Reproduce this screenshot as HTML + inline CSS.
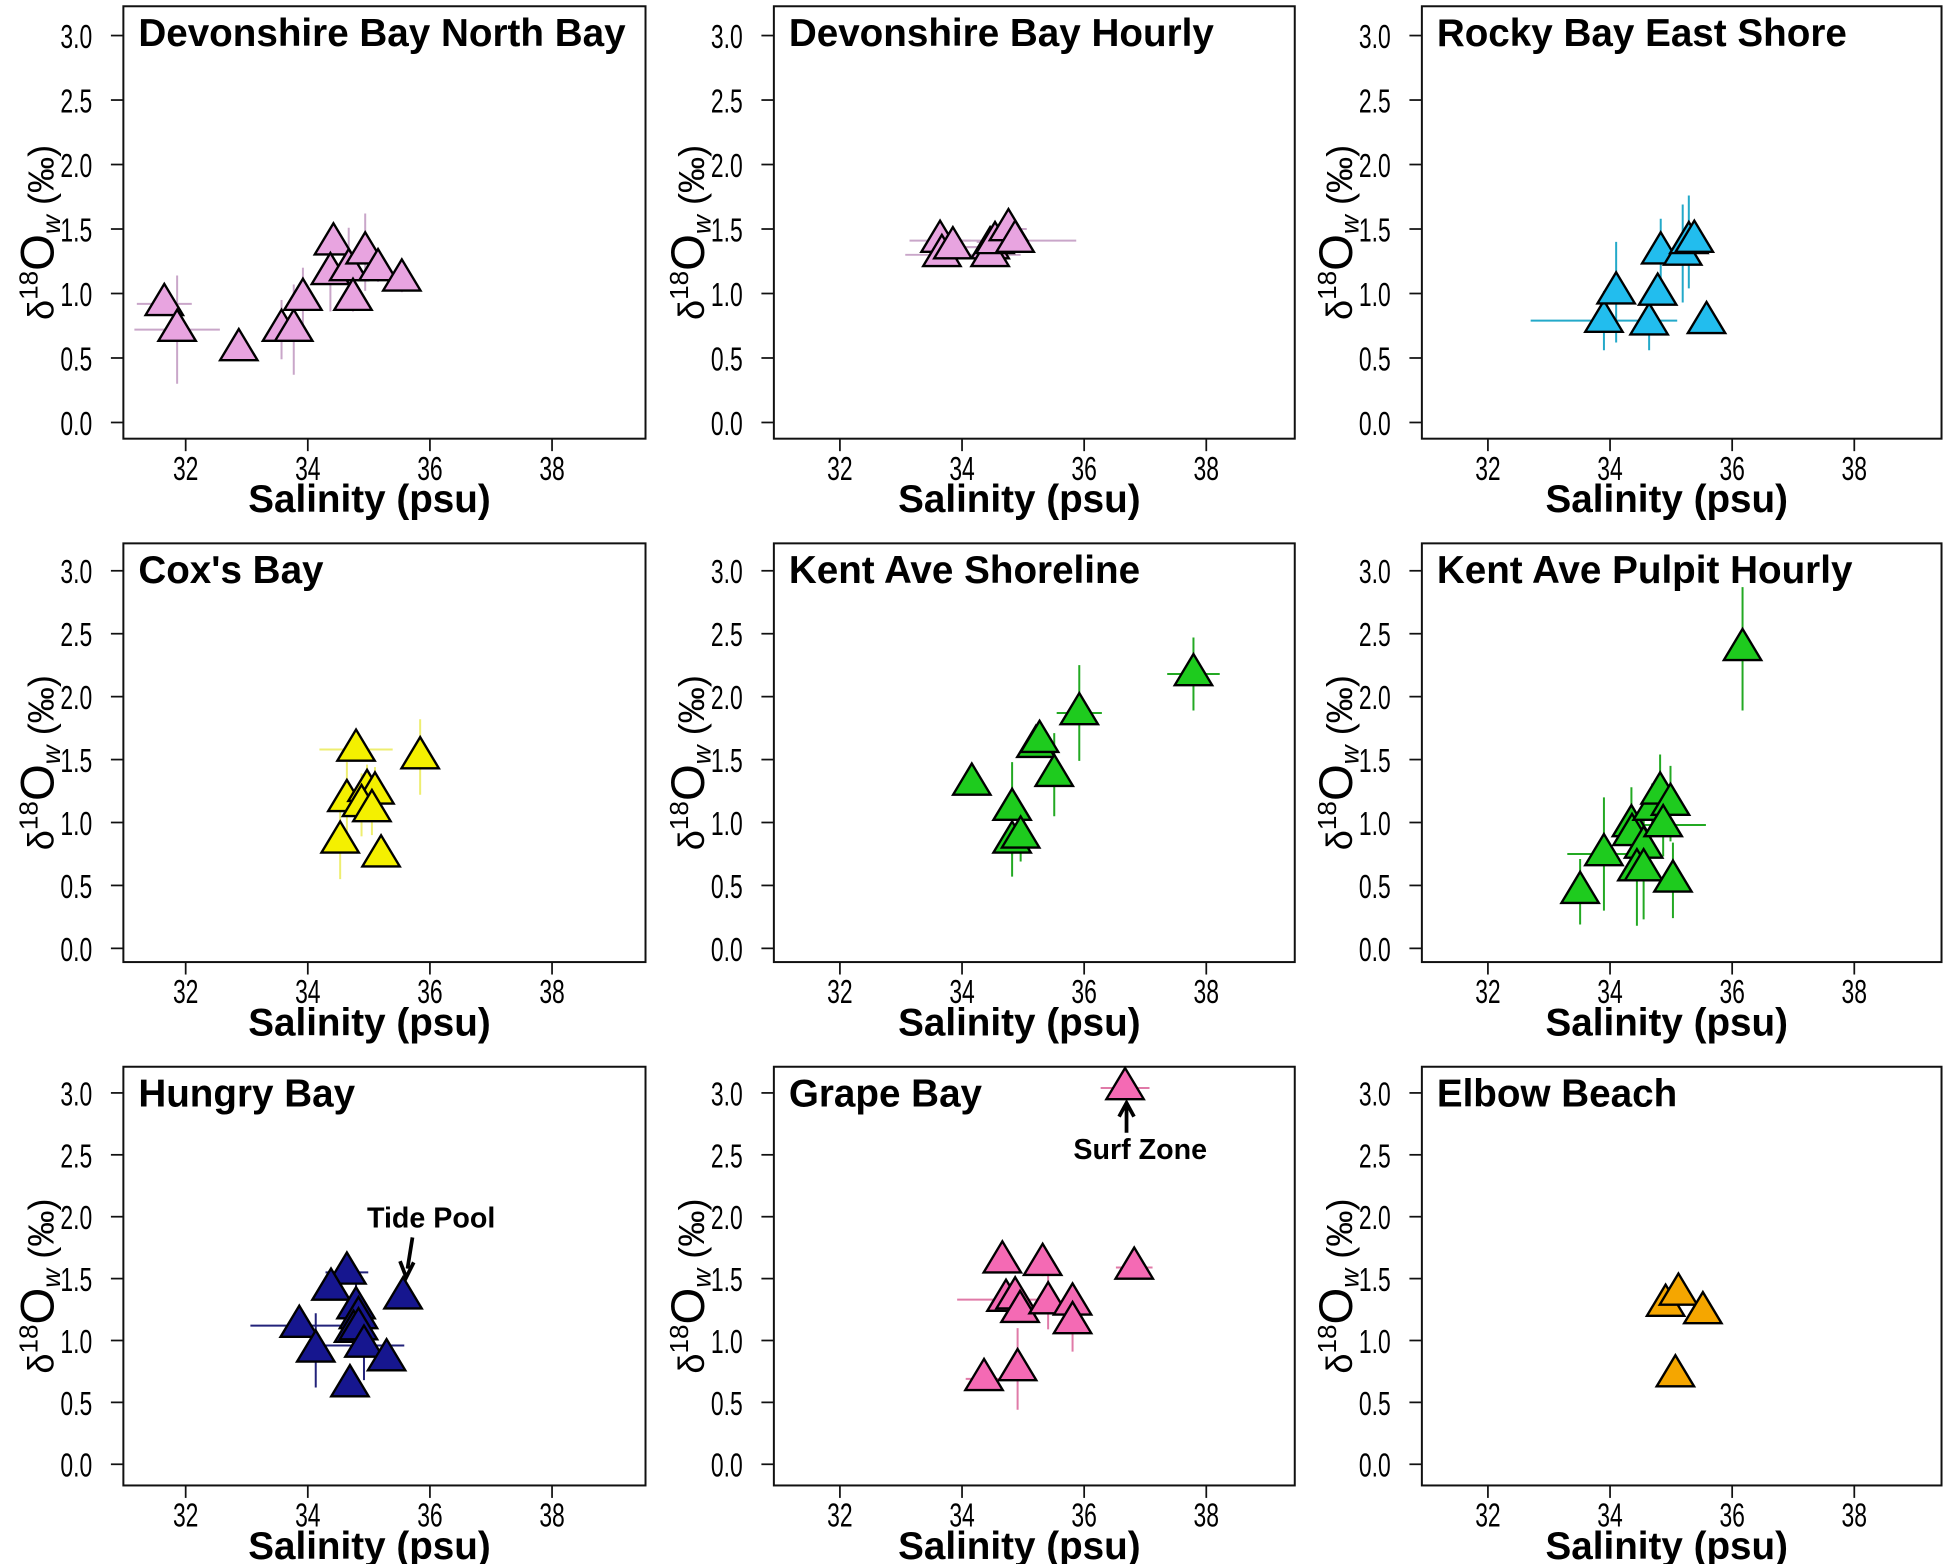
<!DOCTYPE html>
<html><head><meta charset="utf-8"><style>
html,body{margin:0;padding:0;background:#fff}
svg{display:block}
text{font-family:"Liberation Sans",sans-serif}
.tick{font-size:27px}
.ttl{font-weight:bold;font-size:31px}
.xt{font-weight:bold;font-size:31px}
</style></head><body>
<svg id="fig" xmlns="http://www.w3.org/2000/svg" width="1949" height="1564" viewBox="0 0 1564 1255"></svg>
<script>
const xTicks=[32,34,36,38];
const yTicks=[0.0,0.5,1.0,1.5,2.0,2.5,3.0];
const titles=["Devonshire Bay North Bay","Devonshire Bay Hourly","Rocky Bay East Shore","Cox's Bay","Kent Ave Shoreline","Kent Ave Pulpit Hourly","Hungry Bay","Grape Bay","Elbow Beach"];
const p1Sal=[31.65,31.86,32.87,33.57,33.77,33.92,34.42,34.37,34.67,34.74,34.94,35.15,35.54];
const p1D18O=[0.92,0.72,0.57,0.72,0.72,0.96,1.39,1.16,1.19,0.96,1.32,1.19,1.11];
const p1SalErr=[0.45,0.7,0,0,0,0,0,0,0,0,0,0,0];
const p1D18OErr=[0,0.42,0,0.23,0.35,0.24,0,0.3,0.32,0.1,0.3,0.1,0.1];
const p2Sal=[33.64,33.67,33.85,34.46,34.46,34.54,34.76,34.87];
const p2D18O=[1.41,1.30,1.36,1.36,1.30,1.40,1.50,1.41];
const p2SalErr=[0.5,0.6,0.4,0.4,0.5,0.3,0.3,1.0];
const p2D18OErr=[0,0,0,0,0,0,0.08,0.05];
const p3Sal=[33.9,34.1,34.64,34.78,34.83,35.19,35.29,35.38,35.58];
const p3D18O=[0.79,1.01,0.77,1.0,1.32,1.31,1.40,1.41,0.78];
const p3SalErr=[1.2,0,0,0,0,0,0,0,0];
const p3D18OErr=[0.23,0.39,0.21,0.06,0.26,0.38,0.36,0,0];
const p4Sal=[34.79,35.84,34.64,34.97,35.1,34.88,35.05,34.53,35.2];
const p4D18O=[1.58,1.52,1.18,1.26,1.24,1.14,1.10,0.85,0.74];
const p4SalErr=[0.6,0,0,0,0,0,0,0,0];
const p4D18OErr=[0.05,0.3,0.3,0.2,0.2,0.25,0.2,0.3,0];
const p5Sal=[34.16,34.82,34.82,34.96,35.21,35.27,35.51,35.92,37.79];
const p5D18O=[1.31,1.11,0.85,0.89,1.61,1.65,1.38,1.87,2.18];
const p5SalErr=[0.2,0,0,0,0,0,0,0.37,0.43];
const p5D18OErr=[0.05,0.37,0.28,0.2,0,0,0.33,0.38,0.29];
const p6Sal=[36.17,33.51,33.9,34.35,34.36,34.55,34.44,34.55,34.69,34.82,34.99,34.87,35.03];
const p6D18O=[2.38,0.45,0.75,0.98,0.91,0.81,0.63,0.63,1.11,1.24,1.15,0.98,0.54];
const p6SalErr=[0,0.2,0.6,0,0,0,0,0,0,0,0,0.7,0.2];
const p6D18OErr=[0.49,0.26,0.45,0.3,0,0.2,0.45,0.4,0.2,0.3,0.3,0.25,0.3];
const p7Sal=[34.64,34.38,34.79,34.83,33.86,34.75,34.83,34.13,34.92,35.29,34.69,35.56];
const p7D18O=[1.55,1.42,1.27,1.19,1.12,1.08,1.1,0.92,0.96,0.85,0.64,1.35];
const p7SalErr=[0.35,0,0,0,0.8,0,0,0,0.66,0,0,0];
const p7D18OErr=[0,0,0.2,0.2,0,0,0,0.3,0.28,0,0,0];
const p8Sal=[34.66,35.32,36.82,34.72,34.87,34.95,35.41,35.81,35.81,34.36,34.91,36.67];
const p8D18O=[1.64,1.62,1.59,1.33,1.35,1.24,1.31,1.30,1.15,0.69,0.77,3.04];
const p8SalErr=[0.2,0,0.3,0.8,0,0,0,0,0,0.3,0,0.4];
const p8D18OErr=[0,0.1,0.05,0,0,0,0.22,0,0.24,0,0.33,0];
const p9Sal=[34.91,35.12,35.52,35.07];
const p9D18O=[1.29,1.38,1.23,0.72];
const p9SalErr=[0,0,0,0];
const p9D18OErr=[0,0,0,0];

const panels=[
 [p1Sal,p1D18O,p1SalErr,p1D18OErr,"#e8a4e0","#c9a6c9"],
 [p2Sal,p2D18O,p2SalErr,p2D18OErr,"#e8a4e0","#c9a6c9"],
 [p3Sal,p3D18O,p3SalErr,p3D18OErr,"#22bdee","#23a9c9"],
 [p4Sal,p4D18O,p4SalErr,p4D18OErr,"#f4f000","#eeee70"],
 [p5Sal,p5D18O,p5SalErr,p5D18OErr,"#1ecb1e","#23a923"],
 [p6Sal,p6D18O,p6SalErr,p6D18OErr,"#1ecb1e","#23a923"],
 [p7Sal,p7D18O,p7SalErr,p7D18OErr,"#16168f","#22227a"],
 [p8Sal,p8D18O,p8SalErr,p8D18OErr,"#f46ab4","#e07aa8"],
 [p9Sal,p9D18O,p9SalErr,p9D18OErr,"#f5a600","#f0c050"]
];
const colL=[99,621,1141], colR=[518,1039,1558], colX32=[149,674,1194];
const rowT=[5,436,856], rowB=[352,772,1192], rowY0=[339,761,1175], rowY3=[28.5,458,877];
const NS="http://www.w3.org/2000/svg";
const svg=document.getElementById('fig');
function mk(tag,attrs,parent){const e=document.createElementNS(NS,tag);for(const k in attrs)e.setAttribute(k,attrs[k]);(parent||svg).appendChild(e);return e;}
const SX=0.68;

panels.forEach((p,i)=>{
 const c=i%3, r=Math.floor(i/3);
 const xs=s=>colX32[c]+(s-32)*49;
 const ys=v=>rowY0[r]-(rowY0[r]-rowY3[r])*v/3;
 const g=mk('g',{});
 
 
 const box=mk('rect',{x:colL[c],y:rowT[r],width:colR[c]-colL[c],height:rowB[r]-rowT[r],fill:'none',stroke:'#111','stroke-width':1.6},g);
 
 
 const t=mk('text',{x:colL[c]+12,y:rowT[r]+32,class:'ttl'},g);t.textContent=titles[i];
 
 
 yTicks.forEach(v=>{
  const y=ys(v);
  mk('line',{x1:colL[c]-10,x2:colL[c],y1:y,y2:y,stroke:'#111','stroke-width':1.4},g);
  const tl=mk('text',{x:(colL[c]-25)/SX,y:y+10,class:'tick','text-anchor':'end',transform:`scale(${SX},1)`},g);tl.textContent=v.toFixed(1);
  
  
 });
 xTicks.forEach(s=>{
  const x=xs(s);
  mk('line',{x1:x,x2:x,y1:rowB[r],y2:rowB[r]+10,stroke:'#111','stroke-width':1.4},g);
  const tl=mk('text',{x:x/SX,y:rowB[r]+33,class:'tick','text-anchor':'middle',transform:`scale(${SX},1)`},g);tl.textContent=s;
  
  
 });
 const xt=mk('text',{x:(colL[c]+colR[c])/2-12,y:rowB[r]+59,class:'xt','text-anchor':'middle'},g);xt.textContent='Salinity (psu)';
 
 
 const cy=(rowT[r]+rowB[r])/2+8, cx=colL[c]-56;
 const yt=mk('text',{x:0,y:0,transform:`translate(${cx},${cy}) rotate(-90)`,'text-anchor':'middle','font-size':29},g);
 
 
 yt.innerHTML='δ<tspan dy="-13" font-size="21">18</tspan><tspan dy="13" font-size="38">O</tspan><tspan dy="5" font-size="21" font-style="italic">w</tspan><tspan dy="-5"> (‰)</tspan>';
 const [sal,d,se,de,fill,ec]=p;
 sal.forEach((s,k)=>{
  const x=xs(s), y=ys(d[k]);
  if(se[k]>0){const l=mk('line',{x1:xs(s-se[k]),x2:xs(s+se[k]),y1:y,y2:y,stroke:ec,'stroke-width':1.6},g);
   
   }
  if(de[k]>0){const l=mk('line',{x1:x,x2:x,y1:ys(d[k]-de[k]),y2:ys(d[k]+de[k]),stroke:ec,'stroke-width':1.6},g);
   
   }
 });
 sal.forEach((s,k)=>{
  const x=xs(s), y=ys(d[k]);
  const tri=mk('polygon',{points:`${x},${y-16} ${x-15},${y+9} ${x+15},${y+9}`,fill:fill,stroke:'#000','stroke-width':1.9,'stroke-linejoin':'miter'},g);
  
  
 });
});
const a1=mk('text',{x:346,y:985,'font-weight':'bold','font-size':23,'text-anchor':'middle'});a1.textContent='Tide Pool';


const ar1=mk('path',{d:'M331,993 L327,1018 M321,1012 L326,1025 L332,1013',stroke:'#000','stroke-width':3,fill:'none'});


const a2=mk('text',{x:915,y:930,'font-weight':'bold','font-size':23,'text-anchor':'middle'});a2.textContent='Surf Zone';


const ar2=mk('path',{d:'M904,909 L904,888 M898,896 L904,885 L910,896',stroke:'#000','stroke-width':3,fill:'none'});


</script>
</body></html>
